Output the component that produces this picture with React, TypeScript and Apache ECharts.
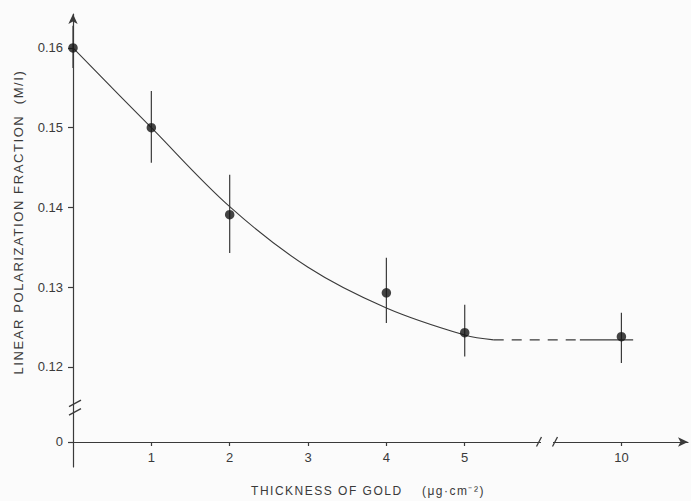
import React, { useEffect, useRef } from "react";
import * as echarts from "echarts";

// ---- data ----
// smooth fitted curve (thickness, fraction)
const curveX = [0, 1, 2, 3, 4, 5, 5.37];
const curveY = [0.16, 0.15, 0.1401, 0.1325, 0.1274, 0.124, 0.1234];
// dashed continuation across the break, then short solid piece around 10
const dashX = [5.37, 9.47];
const dashY = [0.1234, 0.1234];
const solidX = [9.47, 10.15];
const solidY = [0.1234, 0.1234];
// measured points with error bars
const pointX = [0, 1, 2, 4, 5, 10];
const pointY = [0.16, 0.15, 0.1391, 0.1293, 0.1243, 0.1238];
const errLow = [0.1575, 0.1456, 0.1343, 0.1255, 0.1213, 0.1205];
const errHigh = [0.1628, 0.1546, 0.1441, 0.1337, 0.1278, 0.1268];
// tick labels
const xTicks = [1, 2, 3, 4, 5, 10];
const yTicks = [0, 0.12, 0.13, 0.14, 0.15, 0.16];

const xTitle = "THICKNESS OF GOLD    (\u03bcg\u00b7cm\u207b\u00b2)";
const yTitle = "LINEAR POLARIZATION FRACTION  (M/I)";

// ---- broken-axis mappings ----
const X_BREAK_AT = 6; // values above this are shifted left
const X_SHIFT = 3;
const Y_ZERO_POS = 0.1106; // where "0" sits on the broken y axis
const xPos = (v: number) => (v > X_BREAK_AT ? v - X_SHIFT : v);
const yPos = (v: number) => (v === 0 ? Y_ZERO_POS : v);

const INK = "#3a3a3a";
const BG = "#fbfbfb";
const FONT = "Liberation Sans";

export default function App() {
  const ref = useRef<HTMLDivElement>(null);
  useEffect(() => {
    if (!ref.current) return;
    const chart = echarts.init(ref.current, undefined, { renderer: "svg" });
    const pts = pointX.map((x, i) => [xPos(x), pointY[i]]);
    const bars = pointX.map((x, i) => [xPos(x), errLow[i], errHigh[i]]);
    chart.setOption({
      animation: false,
      backgroundColor: BG,
      grid: { left: 73, top: 14, right: 3, bottom: 34 },
      xAxis: {
        type: "value",
        min: 0,
        max: 7.85,
        offset: -25,
        splitLine: { show: false },
        axisLine: {
          show: true,
          symbol: ["none", "arrow"],
          symbolSize: [7, 10],
          lineStyle: { color: INK, width: 1.2 },
        },
        axisTick: {
          show: true,
          length: 4,
          customValues: xTicks.map(xPos),
          lineStyle: { color: INK, width: 1.2 },
        },
        axisLabel: {
          customValues: xTicks.map(xPos),
          formatter: (v: number) => String(v > X_BREAK_AT ? v + X_SHIFT : v),
          color: INK,
          fontSize: 13,
          fontFamily: FONT,
          margin: 9,
        },
      },
      yAxis: {
        type: "value",
        min: 0.10746,
        max: 0.16426,
        splitLine: { show: false },
        axisLine: {
          show: true,
          symbol: ["none", "arrow"],
          symbolSize: [7, 10],
          lineStyle: { color: INK, width: 1.2 },
        },
        axisTick: {
          show: true,
          length: 5,
          customValues: yTicks.map(yPos),
          lineStyle: { color: INK, width: 1.2 },
        },
        axisLabel: {
          customValues: yTicks.map(yPos),
          formatter: (v: number) => (v < 0.115 ? "0" : v.toFixed(2)),
          color: INK,
          fontSize: 13,
          fontFamily: FONT,
          margin: 10,
        },
      },
      series: [
        {
          type: "line",
          data: curveX.map((x, i) => [xPos(x), curveY[i]]),
          smooth: 0.35,
          showSymbol: false,
          lineStyle: { color: INK, width: 1.1 },
        },
        {
          type: "line",
          data: dashX.map((x, i) => [xPos(x), dashY[i]]),
          showSymbol: false,
          lineStyle: { color: INK, width: 1.1, type: [10, 8] },
        },
        {
          type: "line",
          data: solidX.map((x, i) => [xPos(x), solidY[i]]),
          showSymbol: false,
          lineStyle: { color: INK, width: 1.1 },
        },
        {
          type: "custom",
          data: bars,
          renderItem: (_p: any, api: any) => {
            const a = api.coord([api.value(0), api.value(1)]);
            const b = api.coord([api.value(0), api.value(2)]);
            return {
              type: "line",
              shape: { x1: a[0], y1: a[1], x2: b[0], y2: b[1] },
              style: { stroke: INK, lineWidth: 1.2 },
            };
          },
          z: 3,
        },
        {
          type: "scatter",
          data: pts,
          symbolSize: 9.5,
          itemStyle: { color: "#151515" },
          z: 4,
        },
      ],
    });

    const axisY = chart.convertToPixel({ gridIndex: 0 }, [0, Y_ZERO_POS]) as number[];
    const xb = chart.convertToPixel({ gridIndex: 0 }, [6.05, Y_ZERO_POS]) as number[];
    const yb = chart.convertToPixel({ gridIndex: 0 }, [0, 0.1149]) as number[];
    const cx = xb[0];
    const ay = axisY[1];
    const ax = yb[0] + 1;
    const cy = yb[1];
    const ls = { stroke: INK, lineWidth: 1.3 };
    chart.setOption({
      graphic: [
        { type: "rect", shape: { x: cx - 6, y: ay - 3, width: 12, height: 6 }, style: { fill: BG }, z: 10 },
        { type: "line", shape: { x1: cx - 10.5, y1: ay + 4.5, x2: cx - 5.5, y2: ay - 5 }, style: ls, z: 11 },
        { type: "line", shape: { x1: cx + 5.5, y1: ay + 4.5, x2: cx + 10.5, y2: ay - 5 }, style: ls, z: 11 },
        { type: "line", shape: { x1: ax - 5, y1: cy - 1, x2: ax + 7, y2: cy - 7.5 }, style: ls, z: 11 },
        { type: "line", shape: { x1: ax - 5, y1: cy + 7.5, x2: ax + 7, y2: cy + 1 }, style: ls, z: 11 },
        {
          type: "text",
          x: 368,
          y: 491,
          z: 11,
          style: { text: xTitle, fill: INK, font: `12px "${FONT}"`, align: "center", verticalAlign: "middle" },
        },
        {
          type: "text",
          x: 18,
          y: 222,
          rotation: Math.PI / 2,
          z: 11,
          style: { text: yTitle, fill: INK, font: `13px "${FONT}"`, align: "center", verticalAlign: "middle" },
        },
      ],
    });

    // the original lettering is widely tracked; widen the two axis titles
    const texts = ref.current.querySelectorAll("text");
    texts.forEach((t) => {
      const el = t as SVGTextElement;
      if (el.textContent === yTitle) el.style.letterSpacing = "1.6px";
      if (el.textContent === xTitle) el.style.letterSpacing = "1.5px";
    });
    return () => chart.dispose();
  }, []);
  return (
    <div
      ref={ref}
      style={{ position: "fixed", left: 0, top: 0, width: 691, height: 501 }}
    />
  );
}
